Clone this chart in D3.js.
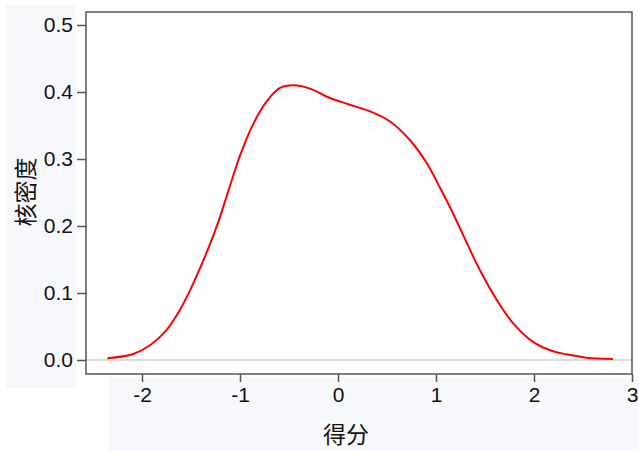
<!DOCTYPE html>
<html>
<head>
    <meta charset="utf-8">
    <title>核密度</title>
    <script src="https://d3js.org/d3.v7.min.js"></script>
    <style>
        body {
            margin: 0;
            background: #fff;
            overflow: hidden;
        }
        .tick text {
            font-family: "Liberation Sans", Arial, sans-serif;
            font-size: 21px;
            fill: #111;
        }
        .axis-title {
            font-family: "Noto Sans CJK SC", sans-serif;
            font-size: 23px;
            fill: #111;
        }
    </style>
</head>
<body>
    <svg width="639" height="451"></svg>

    <script>
    // 得分 (x) 与 核密度 (y)
    const scoreX = [-2.354, -2.089, -1.918, -1.748, -1.612, -1.51, -1.408, -1.306, -1.224, -1.102,
        -1.0, -0.898, -0.83, -0.728, -0.592, -0.456, -0.286, -0.082, 0.122, 0.327,
        0.531, 0.735, 0.905, 1.041, 1.173, 1.313, 1.449, 1.619, 1.786, 1.99,
        2.194, 2.334, 2.538, 2.806];
    const densityY = [0.0025, 0.009, 0.022, 0.045, 0.075, 0.104, 0.137, 0.173, 0.205, 0.260,
        0.305, 0.342, 0.362, 0.386, 0.406, 0.410, 0.405, 0.391, 0.381, 0.371,
        0.356, 0.328, 0.294, 0.257, 0.219, 0.175, 0.134, 0.090, 0.055, 0.027,
        0.013, 0.0085, 0.0034, 0.0015];
    const xTicks = [-2, -1, 0, 1, 2, 3];
    const yTicks = [0.0, 0.1, 0.2, 0.3, 0.4, 0.5];

    const svg = d3.select("svg");
    const pLeft = 86, pRight = 632, pTop = 12, pBottom = 374;

    // 背景面板
    svg.append("rect").attr("x", 6).attr("y", 5).attr("width", 70).attr("height", 383)
        .attr("fill", "#f7f8fc");
    svg.append("rect").attr("x", 108).attr("y", 377).attr("width", 531).attr("height", 74)
        .attr("fill", "#f7f8fc");

    const x = d3.scaleLinear().domain([-2, 3]).range([142, 632]);
    const y = d3.scaleLinear().domain([0, 0.5]).range([360, 25]);

    // 零线
    svg.append("line")
        .attr("x1", pLeft).attr("x2", pRight)
        .attr("y1", y(0)).attr("y2", y(0))
        .attr("stroke", "#d0d0d0").attr("stroke-width", 1.5);

    // 曲线
    const pts = scoreX.map((v, i) => [v, densityY[i]]);
    svg.append("path")
        .datum(pts)
        .attr("fill", "none")
        .attr("stroke", "#ff0000")
        .attr("stroke-width", 2)
        .attr("d", d3.line().x(d => x(d[0])).y(d => y(d[1])).curve(d3.curveCatmullRom.alpha(0.5)));

    // 边框
    svg.append("rect")
        .attr("x", pLeft).attr("y", pTop)
        .attr("width", pRight - pLeft).attr("height", pBottom - pTop)
        .attr("fill", "none").attr("stroke", "#555").attr("stroke-width", 1.5);

    // 坐标轴
    const yAxis = svg.append("g")
        .attr("transform", `translate(${pLeft},0)`)
        .call(d3.axisLeft(y).tickValues(yTicks).tickFormat(d3.format(".1f")).tickSize(9).tickPadding(4));
    const xAxis = svg.append("g")
        .attr("transform", `translate(0,${pBottom})`)
        .call(d3.axisBottom(x).tickValues(xTicks).tickFormat(d3.format("d")).tickSize(8).tickPadding(5));
    [yAxis, xAxis].forEach(g => {
        g.select(".domain").remove();
        g.selectAll(".tick line").attr("stroke", "#555").attr("stroke-width", 1.5);
    });
    xAxis.selectAll(".tick text").text(d => d < 0 ? "-" + Math.abs(d) : d);

    // 标题
    svg.append("text")
        .attr("class", "axis-title")
        .attr("text-anchor", "middle")
        .attr("transform", "translate(34,192) rotate(-90)")
        .text("核密度");
    svg.append("text")
        .attr("class", "axis-title")
        .attr("text-anchor", "middle")
        .attr("x", 346).attr("y", 443)
        .text("得分");
    </script>
</body>
</html>
